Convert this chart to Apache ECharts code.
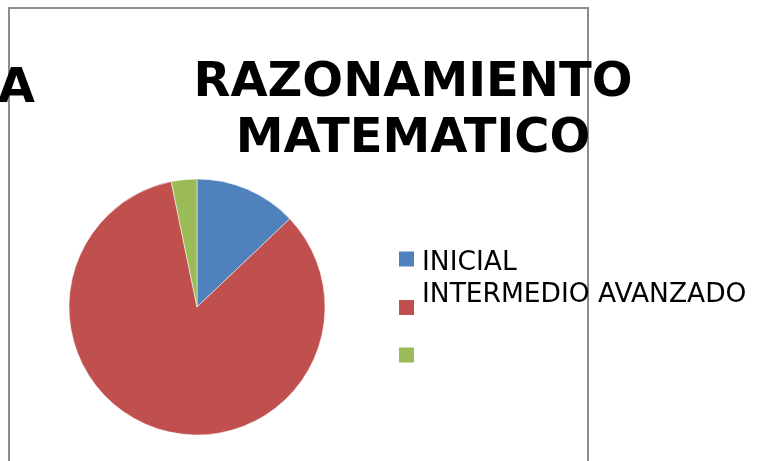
<!DOCTYPE html>
<html>
<head>
<meta charset="utf-8">
<script src="https://cdn.jsdelivr.net/npm/echarts@6/dist/echarts.min.js"></script>
<style>
  html, body { margin: 0; padding: 0; background: #fff; }
  #chart { width: 768px; height: 461px; }
</style>
</head>
<body>
<div id="chart"></div>
<script>
// datos del grafico
var categories = ['INICIAL', 'INTERMEDIO AVANZADO', ' ']
var values = [4, 26, 1]
var colors = ['#4F81BD', '#C0504D', '#9BBB59']
var titleText = 'RAZONAMIENTO\nMATEMATICO'

// una leyenda por entrada, para colocar cada marcador
var legendTops = [244.5, 276.5, 340.5]

var chart = echarts.init(document.getElementById('chart'))

chart.setOption({
  animation: false,
  title: {
    text: titleText,
    left: 413,
    top: 56,
    textAlign: 'center',
    padding: 0,
    textStyle: {
      fontFamily: 'DejaVu Sans',
      fontWeight: 'bold',
      fontSize: 48,
      lineHeight: 56,
      color: '#000'
    }
  },
  legend: categories.map(function(name, i) {
    return {
      orient: 'vertical',
      left: 399,
      top: legendTops[i],
      padding: 0,
      itemWidth: 15,
      itemHeight: 15,
      icon: 'rect',
      selectedMode: false,
      itemStyle: { borderWidth: 0 },
      data: [name],
      formatter: function(n) {
        // la segunda etiqueta lleva una linea vacia debajo
        if (n === categories[1]) {
          return '{s| }\n{t|' + n + '}\n{e| }'
        }
        return '{s| }\n{t|' + n + '}'
      },
      textStyle: {
        fontFamily: 'DejaVu Sans',
        fontSize: 26.5,
        color: '#000',
        rich: {
          s: { fontSize: 1, lineHeight: 8 },
          t: { fontSize: 26.5, lineHeight: 28, padding: [0, 0, 0, 3] },
          e: { fontSize: 26.5, lineHeight: 33 }
        }
      }
    }
  }),
  graphic: [
    {
      type: 'rect',
      shape: { x: 9, y: 8, width: 579, height: 470 },
      style: { fill: 'none', stroke: '#8c8c8c', lineWidth: 2 },
      silent: true
    },
    {
      type: 'text',
      x: 35,
      y: 90,
      style: {
        text: 'A',
        fontFamily: 'DejaVu Sans',
        fontWeight: 'bold',
        fontSize: 48,
        fill: '#000',
        align: 'right',
        verticalAlign: 'middle'
      },
      silent: true
    }
  ],
  series: [
    {
      type: 'pie',
      center: [197, 307],
      radius: 128,
      startAngle: 90,
      clockwise: true,
      label: { show: false },
      labelLine: { show: false },
      emphasis: { disabled: true },
      itemStyle: { borderColor: '#ffffff', borderWidth: 0.5 },
      data: categories.map(function(name, i) {
        return { name: name, value: values[i], itemStyle: { color: colors[i] } }
      })
    }
  ]
})
</script>
</body>
</html>
